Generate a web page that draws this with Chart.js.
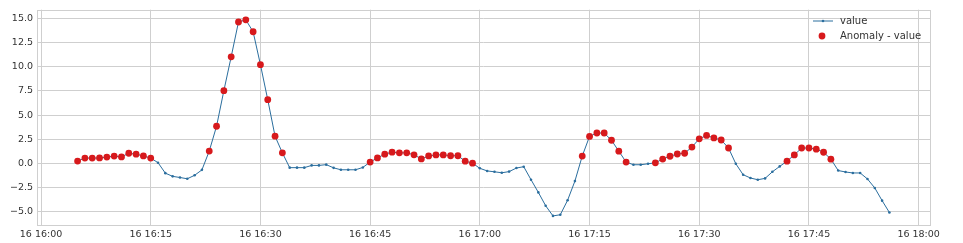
<!DOCTYPE html>
<html>
<head>
<meta charset="utf-8">
<script src="https://cdn.jsdelivr.net/npm/chart.js@4.4.1/dist/chart.umd.min.js"></script>
<style>
  html, body { margin: 0; padding: 0; background: #fff; }
  canvas { display: block; }
</style>
</head>
<body>
<canvas id="anomalyChart" width="963" height="243"></canvas>
<script>
// one reading per minute, 16 16:05 .. 16 17:56
var times = [
  '16:05','16:06','16:07','16:08','16:09','16:10','16:11','16:12','16:13','16:14',
  '16:15','16:16','16:17','16:18','16:19','16:20','16:21','16:22','16:23','16:24',
  '16:25','16:26','16:27','16:28','16:29','16:30','16:31','16:32','16:33','16:34',
  '16:35','16:36','16:37','16:38','16:39','16:40','16:41','16:42','16:43','16:44',
  '16:45','16:46','16:47','16:48','16:49','16:50','16:51','16:52','16:53','16:54',
  '16:55','16:56','16:57','16:58','16:59','17:00','17:01','17:02','17:03','17:04',
  '17:05','17:06','17:07','17:08','17:09','17:10','17:11','17:12','17:13','17:14',
  '17:15','17:16','17:17','17:18','17:19','17:20','17:21','17:22','17:23','17:24',
  '17:25','17:26','17:27','17:28','17:29','17:30','17:31','17:32','17:33','17:34',
  '17:35','17:36','17:37','17:38','17:39','17:40','17:41','17:42','17:43','17:44',
  '17:45','17:46','17:47','17:48','17:49','17:50','17:51','17:52','17:53','17:54',
  '17:55','17:56'
];

var values = [
  0.25, 0.56, 0.56, 0.57, 0.66, 0.77, 0.68, 1.06, 0.96, 0.78,
  0.56, 0.08, -1.0, -1.33, -1.45, -1.58, -1.22, -0.66, 1.28, 3.85,
  7.53, 11.03, 14.63, 14.85, 13.62, 10.22, 6.6, 2.82, 1.1, -0.43,
  -0.43, -0.43, -0.2, -0.2, -0.12, -0.45, -0.65, -0.65, -0.65, -0.41,
  0.15, 0.57, 0.96, 1.17, 1.1, 1.1, 0.9, 0.47, 0.78, 0.89,
  0.89, 0.8, 0.8, 0.24, 0.03, -0.5, -0.77, -0.86, -0.96, -0.84,
  -0.47, -0.33, -1.68, -2.99, -4.37, -5.42, -5.3, -3.8, -1.82, 0.77,
  2.8, 3.15, 3.15, 2.4, 1.27, 0.15, -0.13, -0.13, -0.03, 0.07,
  0.46, 0.75, 0.98, 1.06, 1.7, 2.55, 2.9, 2.64, 2.43, 1.6,
  -0.03, -1.16, -1.5, -1.68, -1.54, -0.86, -0.3, 0.24, 0.89, 1.6,
  1.6, 1.48, 1.16, 0.45, -0.73, -0.88, -0.98, -0.98, -1.6, -2.53,
  -3.84, -5.07
];

// minutes flagged as anomalies
var anomalyTimes = [
  '16:05','16:06','16:07','16:08','16:09','16:10','16:11','16:12','16:13','16:14','16:15',
  '16:23','16:24','16:25','16:26','16:27','16:28','16:29','16:30','16:31','16:32','16:33',
  '16:45','16:46','16:47','16:48','16:49','16:50','16:51','16:52','16:53','16:54','16:55',
  '16:56','16:57','16:58','16:59',
  '17:14','17:15','17:16','17:17','17:18','17:19','17:20',
  '17:24','17:25','17:26','17:27','17:28','17:29','17:30','17:31','17:32','17:33','17:34',
  '17:42','17:43','17:44','17:45','17:46','17:47','17:48'
];

var xTickTimes = ['16:00','16:15','16:30','16:45','17:00','17:15','17:30','17:45','18:00'];
var yTicks = [-5, -2.5, 0, 2.5, 5, 7.5, 10, 12.5, 15];

// minutes since 16:00
function toMinutes(t) {
  var p = t.split(':');
  return (parseInt(p[0], 10) - 16) * 60 + parseInt(p[1], 10);
}

var valuePoints = times.map(function (t, i) { return { x: toMinutes(t), y: values[i] }; });
var anomalyPoints = anomalyTimes.map(function (t) {
  return { x: toMinutes(t), y: values[times.indexOf(t)] };
});

var gridColor = '#cfcfcf';
var textColor = '#333333';
var lineColor = '#2b6e9e';
var dotColor = '#d7191c';

var framePlugin = {
  id: 'frame',
  beforeDraw: function (chart) {
    var c = chart.ctx;
    c.save();
    c.fillStyle = '#ffffff';
    c.fillRect(0, 0, chart.width, chart.height);
    c.restore();
  },
  beforeDatasetsDraw: function (chart) {
    var a = chart.chartArea, c = chart.ctx;
    c.save();
    c.strokeStyle = gridColor;
    c.lineWidth = 1;
    c.strokeRect(Math.round(a.left) + 0.5, Math.round(a.top) + 0.5,
      Math.round(a.right - a.left), Math.round(a.bottom - a.top));
    c.restore();
  },
  afterDraw: function (chart) {
    // legend inside, upper right
    var c = chart.ctx;
    c.save();
    c.font = '10px "DejaVu Sans"';
    c.fillStyle = textColor;
    c.textBaseline = 'middle';
    c.textAlign = 'left';
    c.strokeStyle = lineColor;
    c.lineWidth = 1;
    c.beginPath();
    c.moveTo(813, 21);
    c.lineTo(833, 21);
    c.stroke();
    c.fillStyle = lineColor;
    c.beginPath();
    c.arc(823, 21, 1.3, 0, Math.PI * 2);
    c.fill();
    c.fillStyle = dotColor;
    c.beginPath();
    c.arc(822, 36, 3.4, 0, Math.PI * 2);
    c.fill();
    c.fillStyle = textColor;
    c.fillText('value', 840, 21);
    c.fillText('Anomaly - value', 840, 36);
    c.restore();
  }
};

var ctx = document.getElementById('anomalyChart').getContext('2d');
var chart = new Chart(ctx, {
  type: 'line',
  data: {
    datasets: [{
      label: 'Anomaly - value',
      data: anomalyPoints,
      showLine: false,
      pointRadius: 3.4,
      pointBackgroundColor: dotColor,
      pointBorderWidth: 0,
      order: 0
    }, {
      label: 'value',
      data: valuePoints,
      borderColor: lineColor,
      borderWidth: 1,
      tension: 0,
      fill: false,
      pointRadius: 1.3,
      pointBackgroundColor: lineColor,
      pointBorderWidth: 0,
      order: 1
    }]
  },
  options: {
    responsive: false,
    animation: false,
    layout: { padding: { top: 8, right: 33, left: 0, bottom: 0 } },
    plugins: {
      legend: { display: false },
      tooltip: { enabled: false }
    },
    scales: {
      x: {
        type: 'linear',
        min: -0.55,
        max: 121.55,
        afterBuildTicks: function (scale) {
          scale.ticks = xTickTimes.map(function (t) { return { value: toMinutes(t) }; });
        },
        afterFit: function (scale) { scale.height = 18; },
        grid: { color: gridColor, drawTicks: false },
        border: { display: false },
        ticks: {
          padding: 4,
          maxRotation: 0,
          autoSkip: false,
          color: textColor,
          font: { family: '"DejaVu Sans"', size: 9.5 },
          callback: function (v) {
            var i = xTickTimes.map(toMinutes).indexOf(v);
            return i >= 0 ? '16 ' + xTickTimes[i] : '';
          }
        }
      },
      y: {
        min: -6.36,
        max: 15.9,
        afterBuildTicks: function (scale) {
          scale.ticks = yTicks.map(function (v) { return { value: v }; });
        },
        afterFit: function (scale) { scale.width = 37; },
        grid: { color: gridColor, drawTicks: false },
        border: { display: false },
        ticks: {
          padding: 4,
          color: textColor,
          font: { family: '"DejaVu Sans"', size: 9.5 },
          callback: function (v) {
            var s = Math.abs(v).toFixed(1);
            return v < 0 ? '\u2212' + s : s;
          }
        }
      }
    }
  },
  plugins: [framePlugin]
});
</script>
</body>
</html>
